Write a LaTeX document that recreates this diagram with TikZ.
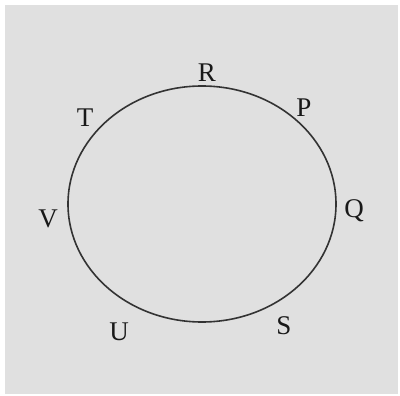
\documentclass[tikz,border=0pt]{standalone}
\usepackage{fontspec}
\setmainfont{Liberation Serif}
\begin{document}
\begin{tikzpicture}[x=1pt,y=-1pt,
  lbl/.style={font=\fontsize{27}{27}\selectfont, text=black!90, inner sep=0pt}]
\useasboundingbox (0,0) rectangle (400,396);
\fill[white] (0,0) rectangle (400,396);
\fill[black!12] (5,5) rectangle (398,394);
\draw[line width=1.6pt, black!80] (202,204) ellipse [x radius=134, y radius=118];
\node[lbl] (R) at (207,73) {R};
\node[lbl] (T) at (85,118) {T};
\node[lbl] (P) at (304,108) {P};
\node[lbl] (V) at (48,219) {V};
\node[lbl] (Q) at (354,211) {Q};
\node[lbl] (U) at (119,332) {U};
\node[lbl] (S) at (284,326) {S};
\end{tikzpicture}
\end{document}
